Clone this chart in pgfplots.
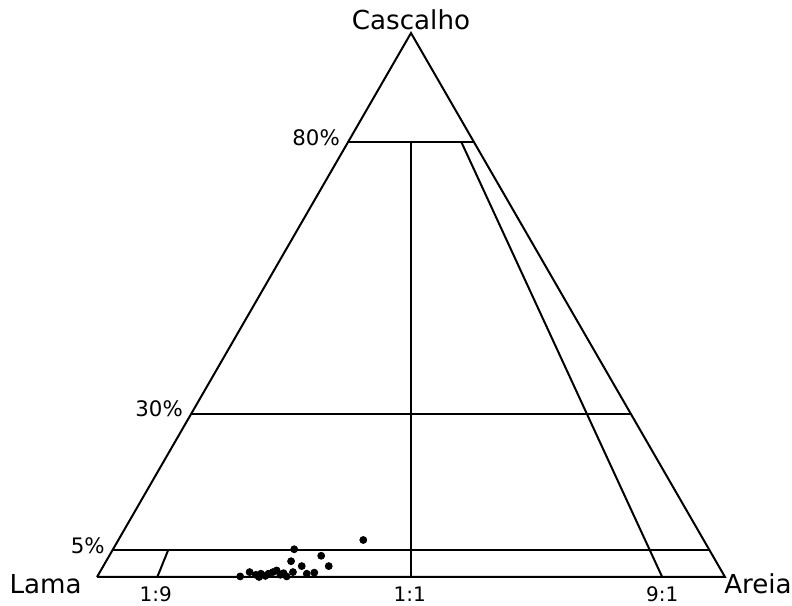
\documentclass[border=0pt]{standalone}
\usepackage{pgfplots}
\pgfplotsset{compat=1.18}
\usepackage{fontspec}
\setmainfont{DejaVu Sans}

% Folk (1954) gravel--sand--mud diagram.
% x: position along the base (0 = mud, 100 = sand), y: gravel content in %.
\pgfplotstableread{
x     y
42.4  6.8
31.4  5.1
35.7  3.9
30.9  2.9
32.6  2.0
36.9  2.0
31.2  0.9
33.4  0.6
34.6  0.8
22.8  0.1
24.3  0.9
25.3  0.4
26.1  0.6
26.8  0.2
27.3  0.6
28.0  0.9
28.6  1.2
29.2  0.4
30.2  0.1
25.8  0.0
29.7  0.7
}\samples

\begin{document}
\begin{tikzpicture}
\begin{axis}[
    x=4.71pt, y=4.08pt,
    xmin=0, xmax=100, ymin=0, ymax=100,
    hide axis, clip=false,
    every axis plot/.append style={line width=1.5pt, black},
]
% outline of the triangle
\addplot[no marks] coordinates {(0,0) (100,0) (50,100) (0,0)};
% gravel boundaries: 80 %, 30 %, 5 %
\addplot[no marks] coordinates {(40,80) (60,80)};
\addplot[no marks] coordinates {(15,30) (85,30)};
\addplot[no marks] coordinates {(2.5,5) (97.5,5)};
% sand:mud ratio lines
\addplot[no marks] coordinates {(9.6,0) (11.35,5)};
\addplot[no marks] coordinates {(50,0) (50,80)};
\addplot[no marks] coordinates {(90,0) (58,80)};
% samples
\addplot[only marks, mark=*, mark size=2.6pt, fill=black, line width=0.6pt] table[x=x, y=y] {\samples};

% corner names and scale labels
\node[inner sep=0pt, font=\fontsize{19.6}{22}\selectfont, anchor=base] at (axis cs:50,100.7) {Cascalho};
\node[inner sep=0pt, font=\fontsize{19.6}{22}\selectfont, anchor=base east] at (axis cs:-2.4,-2.95) {Lama};
\node[inner sep=0pt, font=\fontsize{19.6}{22}\selectfont, anchor=base west] at (axis cs:99.85,-2.95) {Areia};
\node[inner sep=0pt, font=\fontsize{16}{18}\selectfont, anchor=east] at (axis cs:38.7,80.7) {80\%};
\node[inner sep=0pt, font=\fontsize{16}{18}\selectfont, anchor=east] at (axis cs:13.7,30.9) {30\%};
\node[inner sep=0pt, font=\fontsize{16}{18}\selectfont, anchor=east] at (axis cs:1.27,5.8) {5\%};
\node[inner sep=0pt, font=\fontsize{15}{18}\selectfont, anchor=base] at (axis cs:9.35,-4.45) {1:9};
\node[inner sep=0pt, font=\fontsize{15}{18}\selectfont, anchor=base] at (axis cs:49.8,-4.45) {1:1};
\node[inner sep=0pt, font=\fontsize{15}{18}\selectfont, anchor=base] at (axis cs:90,-4.45) {9:1};

% corners of the page
\coordinate (pageNW) at (axis cs:-15.45,106.07);
\coordinate (pageSE) at (axis cs:110.67,-5.33);
\end{axis}
\pgfresetboundingbox
\path[use as bounding box] (pageNW) rectangle (pageSE);
\end{tikzpicture}
\end{document}
